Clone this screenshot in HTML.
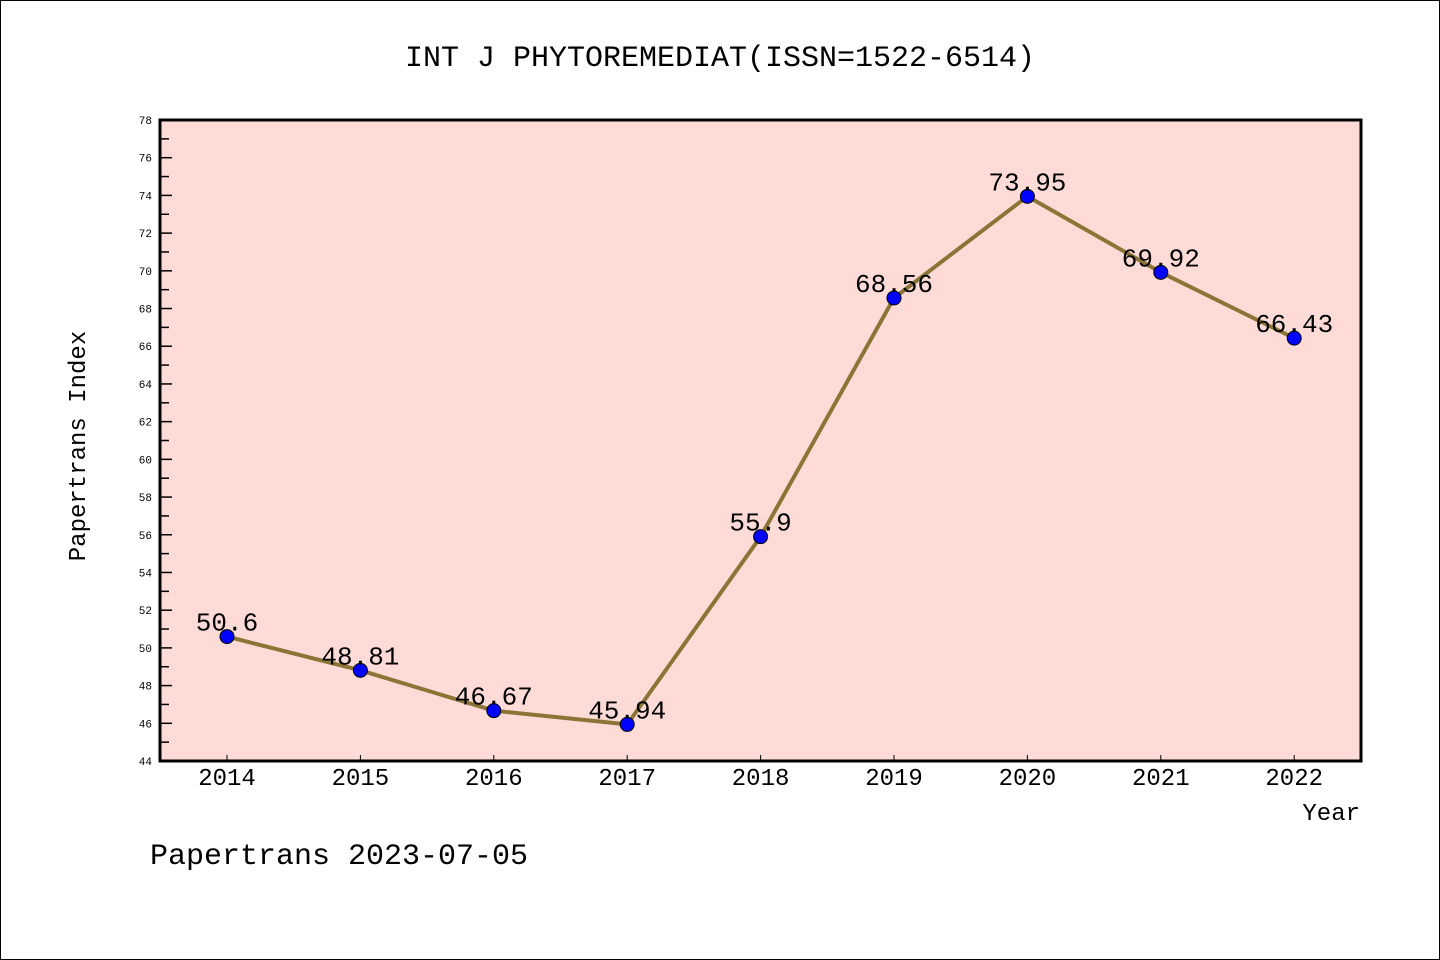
<!DOCTYPE html>
<html><head><meta charset="utf-8"><style>
html,body{margin:0;padding:0;background:#fff}
svg{display:block}
text{font-family:"Liberation Mono","DejaVu Sans Mono",monospace;fill:#000}
</style></head><body>
<svg id="chart" width="1440" height="960" xmlns="http://www.w3.org/2000/svg">
<rect x="0.5" y="0.5" width="1439" height="959" fill="#fff" stroke="#000"/>
<text x="720" y="66" font-size="30" text-anchor="middle">INT J PHYTOREMEDIAT(ISSN=1522-6514)</text>
<rect x="160" y="120" width="1201" height="641" fill="#ffdbd8"/>
<g id="yaxis"></g>
<g id="xaxis"></g>
<g id="series"></g>
<rect x="160" y="120" width="1201" height="641" fill="none" stroke="#000" stroke-width="3"/>
<text transform="translate(85,446) rotate(-90)" font-size="24" text-anchor="middle">Papertrans Index</text>
<text x="1360" y="820" font-size="24" text-anchor="end">Year</text>
<text x="150" y="864" font-size="30">Papertrans 2023-07-05</text>
</svg>
<script>
const categories=["2014","2015","2016","2017","2018","2019","2020","2021","2022"];
const values=[50.6,48.81,46.67,45.94,55.9,68.56,73.95,69.92,66.43];
const valueLabels=["50.6","48.81","46.67","45.94","55.9","68.56","73.95","69.92","66.43"];
const yTicks=[44,46,48,50,52,54,56,58,60,62,64,66,68,70,72,74,76,78];
(function(){
const NS="http://www.w3.org/2000/svg";
const yMin=44,yMax=78,plotTop=120,plotBot=761;
function y(v){return plotBot-(v-yMin)/(yMax-yMin)*(plotBot-plotTop);}
function x(i){return 227+i*133.4;}
function mk(t,a,p){const e=document.createElementNS(NS,t);for(const k in a)e.setAttribute(k,a[k]);p.appendChild(e);return e;}
const ya=document.getElementById('yaxis'),xa=document.getElementById('xaxis'),sg=document.getElementById('series');
yTicks.forEach((v,i)=>{
  const l=mk('line',{x1:160,x2:172,y1:y(v),y2:y(v),stroke:'#000','stroke-width':1.5},ya);
  
  
  if(i<yTicks.length-1){
    const m=mk('line',{x1:160,x2:169,y1:y(v+1),y2:y(v+1),stroke:'#000','stroke-width':1.5},ya);
    
    
  }
  const t=mk('text',{x:152,y:y(v)+4,'font-size':11,'text-anchor':'end'},ya);
  t.textContent=v;
  
  
});
categories.forEach((c,i)=>{
  const l=mk('line',{x1:x(i),x2:x(i),y1:plotBot,y2:plotBot-6,stroke:'#000','stroke-width':1},xa);
  
  
  const t=mk('text',{x:x(i),y:785,'font-size':24,'text-anchor':'middle'},xa);
  t.textContent=c;
  
  
});
const pl=mk('polyline',{points:values.map((v,i)=>x(i)+','+y(v)).join(' '),fill:'none',stroke:'#8b7536','stroke-width':4},sg);


values.forEach((v,i)=>{
  const c=mk('circle',{cx:x(i),cy:y(v),r:7,fill:'#0000ff',stroke:'#000','stroke-width':1},sg);
  
  
});
values.forEach((v,i)=>{
  const t=mk('text',{x:x(i),y:y(v)-6,'font-size':26,'text-anchor':'middle'},sg);
  t.textContent=valueLabels[i];
  
  
});
})();
</script>
</body></html>
